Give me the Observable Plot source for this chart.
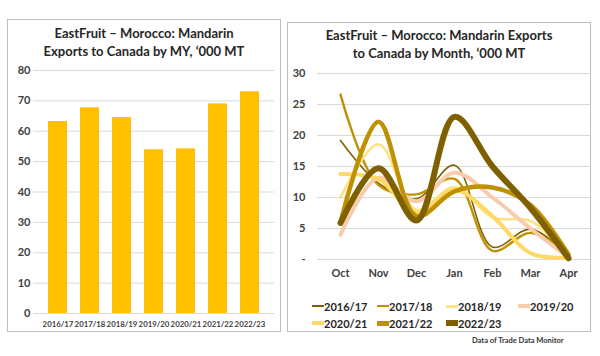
<!DOCTYPE html>
<html>
<head>
<meta charset="utf-8">
<script src="https://cdn.jsdelivr.net/npm/d3@7"></script>
<script src="https://cdn.jsdelivr.net/npm/@observablehq/plot@0.6"></script>
<style>
  html, body { margin: 0; padding: 0; background: #fff; }
  #root { position: relative; width: 600px; height: 356px; font-family: Lato, "Open Sans", sans-serif; color: #262626; overflow: hidden; }
  .panel { position: absolute; border: 1px solid #BFBFBF; box-sizing: border-box; }
  .title { position: absolute; text-align: center; font-weight: bold; font-size: 13px; line-height: 18px; color: #262626; }
  .chart { position: absolute; }
  #legend { position: absolute; left: 312px; top: 298px; display: grid; grid-template-columns: 65px 69px 72px 70px; row-gap: 1px; font-weight: bold; font-size: 11px; color: #262626; }
  .item { display: flex; align-items: center; height: 16px; white-space: nowrap; }
  .sw { display: inline-block; width: 12px; margin-right: 0px; }
  #caption { position: absolute; left: 472px; top: 336px; font-size: 7.5px; font-weight: bold; color: #333; }
</style>
</head>
<body>
<div id="root">
  <div class="panel" style="left:7px; top:19px; width:274px; height:313px;"></div>
  <div class="panel" style="left:287px; top:22px; width:304px; height:310px;"></div>
  <div class="title" style="left:7px; top:24px; width:274px;">EastFruit – Morocco: Mandarin<br>Exports to Canada by MY, ‘000 MT</div>
  <div class="title" style="left:287px; top:26px; width:304px;">EastFruit – Morocco: Mandarin Exports<br>to Canada by Month, ‘000 MT</div>
  <div class="chart" id="left" style="left:0px; top:60px;"></div>
  <div class="chart" id="right" style="left:290px; top:60px;"></div>
  <div id="legend"></div>
  <div id="caption">Data of Trade Data Monitor</div>
</div>
<script>
// ---- Left chart data ----
const marketingYears = ["2016/17", "2017/18", "2018/19", "2019/20", "2020/21", "2021/22", "2022/23"];
const exportsByMY = [63.2, 67.7, 64.5, 53.9, 54.2, 69.0, 73.0];
const leftTicks = [0, 10, 20, 30, 40, 50, 60, 70, 80];

// ---- Right chart data ----
const months = ["Oct", "Nov", "Dec", "Jan", "Feb", "Mar", "Apr"];
const seasons = ["2016/17", "2017/18", "2018/19", "2019/20", "2020/21", "2021/22", "2022/23"];
const s2016_17 = [19.2, 12.3, 9.8, 15.2, 2.0, 4.9, 0.6];
const s2017_18 = [26.6, 12.0, 10.5, 13.0, 1.4, 4.3, 1.0];
const s2018_19 = [10.0, 18.6, 8.0, 11.7, 6.8, 6.2, 0.5];
const s2019_20 = [4.0, 13.2, 9.4, 14.0, 10.0, 5.0, 0.3];
const s2020_21 = [13.8, 13.0, 7.5, 11.2, 7.0, 1.0, 0.3];
const s2021_22 = [6.0, 22.2, 7.0, 11.0, 11.6, 8.8, 0.8];
const s2022_23 = [5.9, 14.7, 6.3, 23.0, 15.0, 8.3, 0.2];
const rightTicks = [0, 5, 10, 15, 20, 25, 30];

const seasonValues = [s2016_17, s2017_18, s2018_19, s2019_20, s2020_21, s2021_22, s2022_23];
const seasonColors = ["#7F6000", "#BF9000", "#FFE285", "#F8CBAD", "#FFD966", "#BF9000", "#7F6000"];
const seasonWidths = [1.6, 2.4, 2.6, 4, 4, 4.5, 6];

const barRows = marketingYears.map((y, i) => ({year: y, value: exportsByMY[i]}));

const left = Plot.plot({
  width: 290, height: 280,
  marginTop: 10, marginBottom: 27, marginLeft: 33, marginRight: 16,
  style: {fontFamily: "Lato, sans-serif", fontWeight: "bold", color: "#404040", background: "transparent"},
  x: {domain: marketingYears, padding: 0.42, label: null},
  y: {domain: [0, 80], label: null},
  marks: [
    Plot.gridY(leftTicks, {stroke: "#D9D9D9", strokeOpacity: 1}),
    Plot.barY(barRows, {x: "year", y: "value", fill: "#FFC000"}),
    Plot.ruleY([0], {stroke: "#D9D9D9"}),
    Plot.axisY(leftTicks, {tickSize: 0, tickPadding: 3, fontSize: 11, label: null}),
    Plot.axisX({tickSize: 0, tickPadding: 8, fontSize: 7.8, label: null})
  ]
});
document.getElementById("left").appendChild(left);

const lineMarks = seasons.map((s, i) =>
  Plot.line(months.map((m, j) => ({month: m, value: seasonValues[i][j]})), {
    x: "month", y: "value", stroke: seasonColors[i], strokeWidth: seasonWidths[i],
    curve: "catmull-rom", strokeLinecap: "round", strokeLinejoin: "round"
  })
);

const right = Plot.plot({
  width: 310, height: 230,
  marginTop: 13, marginBottom: 31, marginLeft: 27, marginRight: 10,
  style: {fontFamily: "Lato, sans-serif", fontWeight: "bold", color: "#404040", background: "transparent"},
  x: {type: "point", domain: months, padding: 0.53, label: null},
  y: {domain: [0, 30], label: null},
  marks: [
    Plot.gridY(rightTicks, {stroke: "#D9D9D9", strokeOpacity: 1}),
    Plot.ruleY([0], {stroke: "#D9D9D9"}),
    ...lineMarks,
    Plot.axisY(rightTicks, {tickSize: 0, tickPadding: 12, fontSize: 11, label: null, tickFormat: d => d === 0 ? "-" : d}),
    Plot.axisX({tickSize: 0, tickPadding: 10, fontSize: 11, label: null})
  ]
});
document.getElementById("right").appendChild(right);

// legend
const legend = document.getElementById("legend");
seasons.forEach((s, i) => {
  const it = document.createElement("div");
  it.className = "item";
  const sw = document.createElement("span");
  sw.className = "sw";
  sw.style.height = Math.max(2, Math.round(seasonWidths[i])) + "px";
  sw.style.background = seasonColors[i];
  const t = document.createElement("span");
  t.textContent = s;
  it.appendChild(sw); it.appendChild(t);
  legend.appendChild(it);
});
</script>
</body>
</html>
